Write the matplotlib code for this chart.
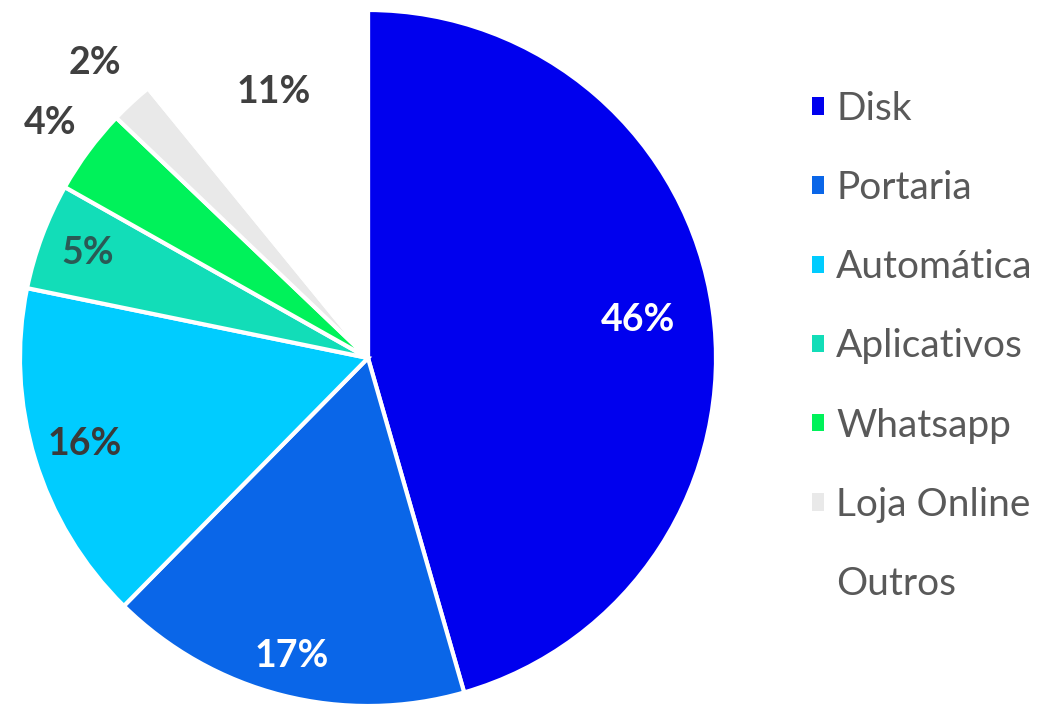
import matplotlib
matplotlib.use("Agg")
import matplotlib.pyplot as plt
import numpy as np

categories = ["Disk", "Portaria", "Automática", "Aplicativos", "Whatsapp", "Loja Online", "Outros"]
values = [46, 17, 16, 5, 4, 2, 11]
labels = ["46%", "17%", "16%", "5%", "4%", "2%", "11%"]

colors = ["#0000EE", "#0A66E8", "#00CCFF", "#12DDB8", "#00F25A", "#E9E9E9", "#FFFFFF"]
label_colors = ["white", "white", "#3a3a3a", "#2a5a55", "#404040", "#404040", "#404040"]
label_dist = [0.785, 0.885, 0.85, 0.86, 1.135, 1.155, 0.81]

W, H = 1045, 710
fig = plt.figure(figsize=(W / 100, H / 100), dpi=100)
ax = fig.add_axes([0, 0, 1, 1])
ax.set_xlim(0, W)
ax.set_ylim(0, H)

cx, cy, R = 368, H - 358, 348
wedges, _ = ax.pie(values, colors=colors, startangle=90, counterclock=False,
                   center=(cx, cy), radius=R, frame=True,
                   wedgeprops=dict(edgecolor="white", linewidth=3))
ax.set_aspect("equal")
ax.axis("off")

for w, lab, col, d in zip(wedges, labels, label_colors, label_dist):
    ang = np.deg2rad((w.theta1 + w.theta2) / 2)
    x = cx + R * d * np.cos(ang)
    y = cy + R * d * np.sin(ang)
    ax.text(x, y, lab, ha="center", va="center", color=col, fontsize=27,
            fontweight="bold", family="Lato")

leg = ax.legend(wedges, categories, loc="upper left",
                bbox_to_anchor=(812 / W, 1 - 91 / H), bbox_transform=fig.transFigure,
                frameon=False, prop=dict(family="Lato", size=28),
                labelcolor="#595959", handlelength=0.32, handleheight=0.32,
                handletextpad=0.3, labelspacing=1.11, borderpad=0, borderaxespad=0)
for h in leg.legend_handles:
    h.set_edgecolor("none")

fig.savefig("out.png", dpi=100)
